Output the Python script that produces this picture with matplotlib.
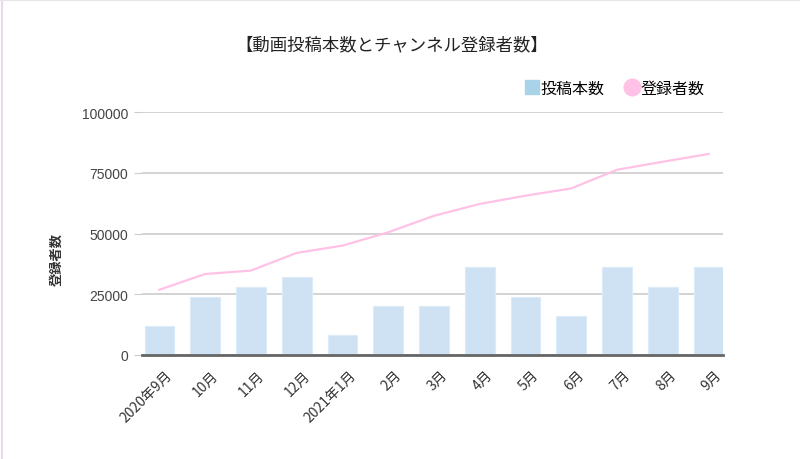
import matplotlib
matplotlib.use("Agg")
import matplotlib.pyplot as plt
import matplotlib.transforms as mtransforms
from matplotlib.lines import Line2D

plt.rcParams['font.family'] = ['Noto Sans CJK JP', 'DejaVu Sans']

# data
months = ["2020年9月", "10月", "11月", "12月", "2021年1月", "2月", "3月",
          "4月", "5月", "6月", "7月", "8月", "9月"]
posts = [3, 6, 7, 8, 2, 5, 5, 9, 6, 4, 9, 7, 9]
subscribers = [26800, 33300, 34700, 42000, 45000, 50500, 57300,
               62200, 65600, 68600, 76300, 79600, 82800]
yticks = [0, 25000, 50000, 75000, 100000]

bar_col = "#cfe2f3"
line_col = "#ffc2e6"

fig = plt.figure(figsize=(8, 4.6), dpi=100)
ax = fig.add_axes([0.1775, 0.2267, 0.7265, 0.527])
ax2 = ax.twinx()

x = range(len(months))
ax.plot(x, subscribers, color=line_col, lw=1.6, zorder=3)
ax.set_ylim(0, 100000)
ax.set_yticks(yticks)
ax.set_yticklabels([str(v) for v in yticks], fontsize=10, color="#444444",
                   family=['Liberation Sans', 'DejaVu Sans'])
ax.grid(axis='y', color="#cccccc", lw=1.2)
ax.tick_params(axis='y', length=6, color="#cccccc", pad=4)
ax.tick_params(axis='x', length=0, pad=4)
for s in ax.spines.values():
    s.set_visible(False)

ax2.bar(x, posts, width=0.65, color=bar_col, edgecolor="#dcebf8", lw=0.8)
ax2.set_ylim(0, 25)
ax2.set_yticks([])
for k, s in ax2.spines.items():
    s.set_visible(k == 'bottom')
ax2.spines['bottom'].set_color("#666666")
ax2.spines['bottom'].set_linewidth(2)

ax.set_xlim(-0.38, 12.32)
ax.set_xticks(list(x))
ax.set_xticklabels(months, rotation=45, ha='right', rotation_mode='anchor',
                   fontsize=10, color="#333333")
shift = mtransforms.ScaledTranslation(0.06, -0.07, fig.dpi_scale_trans)
for lab in ax.get_xticklabels():
    lab.set_transform(lab.get_transform() + shift)

fig.text(0.49, 0.902, "【動画投稿本数とチャンネル登録者数】", ha='center', va='center',
         fontsize=12.5, color="#222222")
fig.text(0.071, 0.435, "登録者数", rotation=90, ha='center', va='center',
         fontsize=9.5, fontweight='bold', color="#333333")

handles = [Line2D([], [], ls='none', marker='s', ms=10, color="#a9d3e9"),
           Line2D([], [], ls='none', marker='o', ms=12, color=line_col)]
fig.legend(handles, ["投稿本数", "登録者数"], loc='center', bbox_to_anchor=(0.768, 0.806),
           ncol=2, frameon=False, fontsize=11.5, handletextpad=0.05,
           columnspacing=1.2, handlelength=1.0)

# faint frame edges seen in the reference
fig.add_artist(Line2D([0.002, 0.002], [0, 1], color="#e8d8f0", lw=1.5))
fig.add_artist(Line2D([0, 1], [0.998, 0.998], color="#e6e6e6", lw=1.5))

fig.savefig("out.png", dpi=100)
